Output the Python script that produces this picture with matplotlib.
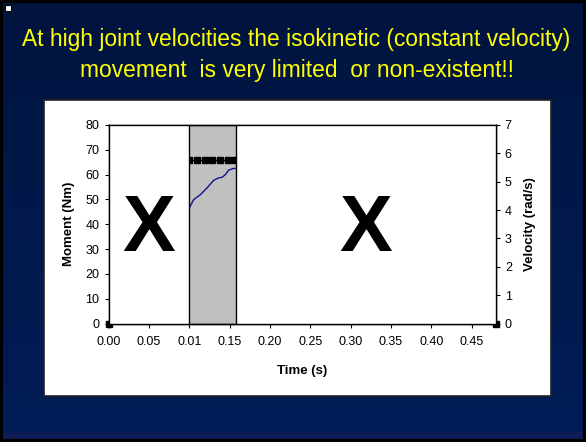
import numpy as np
import matplotlib.pyplot as plt
from matplotlib.patches import Rectangle

plt.rcParams['font.family'] = ['Liberation Sans', 'DejaVu Sans']

# moment trace (Nm), left axis
t_moment = [0.100, 0.1055, 0.1138, 0.122, 0.1303, 0.1365, 0.1407, 0.1448, 0.1489, 0.1551, 0.158]
moment = [46.5, 49.9, 51.9, 54.6, 57.7, 58.7, 58.9, 60.0, 61.8, 62.5, 62.5]

# velocity samples (rad/s), right axis
t_velocity = [0.0, 0.100, 0.1095, 0.119, 0.1285, 0.138, 0.1475, 0.157, 0.48]
velocity = [0, 5.75, 5.75, 5.75, 5.75, 5.75, 5.75, 5.75, 0]

x_ticks = [0.00, 0.05, 0.10, 0.15, 0.20, 0.25, 0.30, 0.35, 0.40, 0.45]
x_tick_labels = ['0.00', '0.05', '0.01', '0.15', '0.20', '0.25', '0.30', '0.35', '0.40', '0.45']
moment_ticks = [0, 10, 20, 30, 40, 50, 60, 70, 80]
velocity_ticks = [0, 1, 2, 3, 4, 5, 6, 7]

# isokinetic window
window = (0.100, 0.158)

title_1 = 'At high joint velocities the isokinetic (constant velocity)'
title_2 = 'movement  is very limited  or non-existent!!'

W, H = 586, 442
fig = plt.figure(figsize=(W / 100, H / 100), dpi=100)

# slide background
bg = fig.add_axes([0, 0, 1, 1], zorder=-2)
top = np.array([0, 20, 62]) / 255
bottom = np.array([0, 29, 88]) / 255
grad = np.linspace(0, 1, 256)[:, None]
img = top + (bottom - top) * grad[:, :, None]
img = np.repeat(img, 2, axis=1)
bg.imshow(img, aspect='auto', extent=[0, 1, 0, 1])
bg.add_patch(Rectangle((0, 0), 1, 10 / H, color='#0e1d58', lw=0))
bg.set_xlim(0, 1)
bg.set_ylim(0, 1)
bg.axis('off')

fig.add_artist(Rectangle((0.0015, 0.002), 0.997, 0.996, transform=fig.transFigure,
                         fill=False, edgecolor='black', lw=3, zorder=-1))
fig.add_artist(Rectangle((5 / W, 1 - 11 / H), 6 / W, 6 / H, transform=fig.transFigure,
                         facecolor='white', edgecolor='black', lw=0.8, zorder=-1))

# white chart panel
fig.add_artist(Rectangle((44 / W, 1 - 396 / H), 507 / W, 296 / H, transform=fig.transFigure,
                         facecolor='white', edgecolor='#222222', lw=1.2, zorder=-1))

fig.text(0.506, 1 - 46 / H, title_1, color='#ffff00', fontsize=16.4, ha='center', va='baseline')
fig.text(0.506, 1 - 76.5 / H, title_2, color='#ffff00', fontsize=16.4, ha='center', va='baseline')

ax = fig.add_axes([108.5 / W, 1 - 323.5 / H, 387.3 / W, 198.5 / H])
ax.set_facecolor('#c0c0c0')
ax.plot(t_moment, moment, color='#101090', lw=1.0, zorder=2)
ax.set_xlim(0, 0.48)
ax.set_ylim(0, 80)
ax.set_xticks(x_ticks)
ax.set_xticklabels(x_tick_labels)
ax.set_yticks(moment_ticks)
ax.tick_params(direction='out', length=3, width=0.8, labelsize=9, color='black')
ax.tick_params(axis='x', pad=6)
ax.tick_params(axis='y', pad=3.5)
ax.set_xlabel('Time (s)', fontsize=9.5, fontweight='bold')
ax.set_ylabel('Moment (Nm)', fontsize=9.5, fontweight='bold')
ax.xaxis.set_label_coords(0.5, -0.21)
ax.yaxis.set_label_coords(-0.086, 0.5)

ax2 = ax.twinx()
ax2.plot(t_velocity, velocity, color='black', lw=1.0, marker='s', markersize=4.5,
         clip_on=False, zorder=2)
ax2.set_ylim(0, 7)
ax2.set_yticks(velocity_ticks)
ax2.tick_params(direction='out', length=3, width=0.8, labelsize=9, pad=3.5)
ax2.set_ylabel('Velocity (rad/s)', fontsize=9.5, fontweight='bold')
ax2.yaxis.set_label_coords(1.073, 0.5)

# white boxes outside the isokinetic window
xt = ax2.get_xaxis_transform()
for x0, x1 in [(0.0, window[0]), (window[1], 0.48)]:
    ax2.add_patch(Rectangle((x0, 0), x1 - x0, 1, transform=xt, facecolor='white',
                            edgecolor='black', lw=1.0, zorder=3))
    ax2.text((x0 + x1) / 2, 0.363, 'X', transform=xt, fontsize=57, fontweight='bold',
             ha='center', va='baseline', zorder=4)
ax2.plot([window[0], window[1]], [1, 1], transform=xt, color='#808080', lw=1.2, zorder=1)

for a in (ax, ax2):
    for s in a.spines.values():
        s.set_color('black')
        s.set_linewidth(1.0)

fig.savefig('out.png', dpi=100)
